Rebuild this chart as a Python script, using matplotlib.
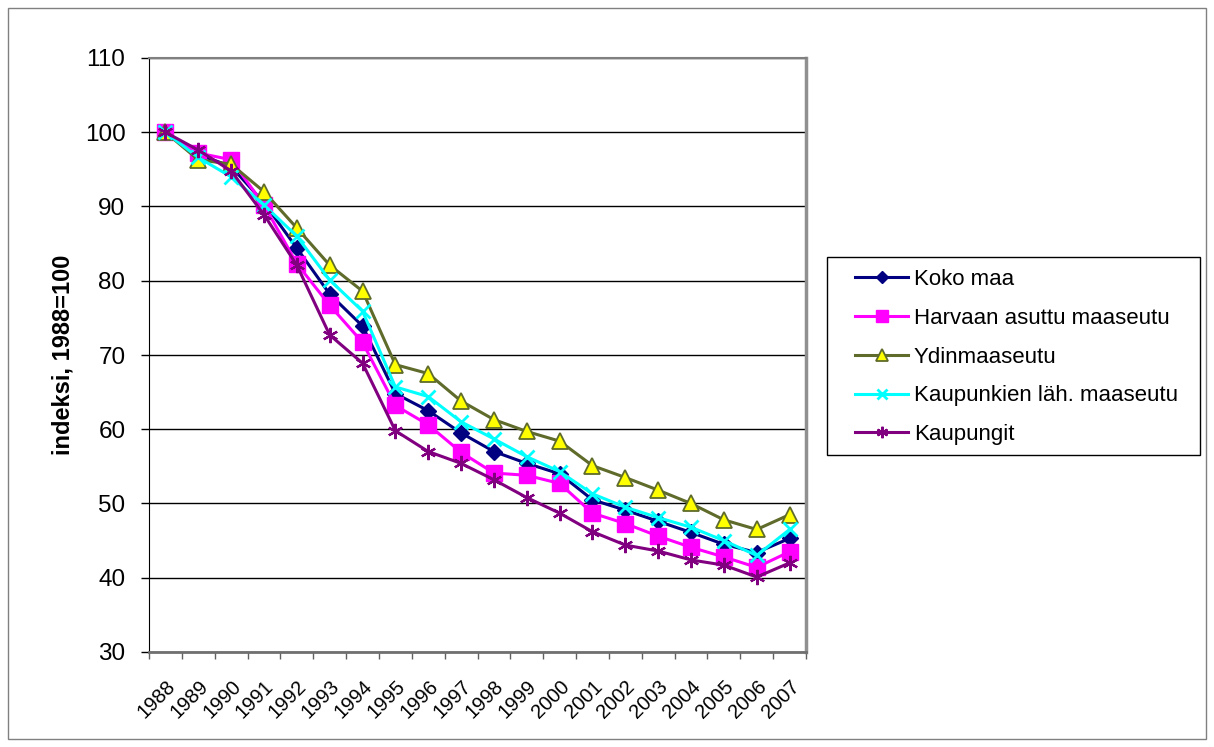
import matplotlib
matplotlib.use('Agg')
import matplotlib.pyplot as plt
import numpy as np

years = [str(y) for y in range(1988, 2008)]

koko_maa = [100, 97.0, 95.4, 90.5, 84.4, 78.2, 73.9, 64.8, 62.5, 59.5,
            57.0, 55.4, 54.0, 50.5, 49.1, 47.6, 46.1, 44.5, 43.4, 45.3]
harvaan = [100, 97.2, 96.3, 90.2, 82.3, 76.7, 71.7, 63.2, 60.6, 56.9,
           54.1, 53.8, 52.7, 48.7, 47.3, 45.6, 44.1, 42.8, 41.4, 43.5]
ydin = [100, 96.3, 95.7, 92.0, 87.1, 82.1, 78.6, 68.7, 67.5, 63.8,
        61.3, 59.7, 58.4, 55.1, 53.5, 51.8, 50.0, 47.8, 46.5, 48.5]
kaup_lah = [100, 96.6, 94.0, 90.2, 86.0, 80.1, 75.9, 65.7, 64.4, 61.0,
            58.7, 56.3, 54.3, 51.3, 49.5, 48.1, 46.8, 45.0, 43.0, 46.5]
kaupungit = [100, 97.6, 94.8, 88.9, 82.1, 72.7, 68.9, 59.8, 57.0, 55.4,
             53.2, 50.8, 48.7, 46.2, 44.4, 43.6, 42.4, 41.7, 40.1, 42.0]

labels = ['Koko maa', 'Harvaan asuttu maaseutu', 'Ydinmaaseutu',
          'Kaupunkien läh. maaseutu', 'Kaupungit']

plt.rcParams['font.family'] = ['Liberation Sans', 'DejaVu Sans']

W, H = 1214, 747
fig = plt.figure(figsize=(W / 100, H / 100), dpi=100)
# outer chart border
fig.patches.append(plt.Rectangle((8 / W, 1 - 739 / H), 1198 / W, 731 / H, transform=fig.transFigure,
                                 fill=False, edgecolor='#808080', linewidth=1))
# legend frame
fig.patches.append(plt.Rectangle((827 / W, 1 - 455 / H), 373 / W, 198 / H, transform=fig.transFigure,
                                 fill=False, edgecolor='black', linewidth=1))
ax = fig.add_axes([149 / W, 1 - 652 / H, 657 / W, 594 / H])

x = np.arange(len(years))
lw = 2.2
ax.plot(x, koko_maa, color='#000080', lw=lw, marker='D', ms=8.5, mfc='#000080', mec='#000080', label=labels[0], zorder=3)
ax.plot(x, harvaan, color='#FF00FF', lw=lw, marker='s', ms=11, mfc='#FF00FF', mec='#FF00FF', label=labels[1], zorder=3)
ax.plot(x, ydin, color='#5F6B2A', lw=lw, marker='^', ms=11, mfc='#FFFF00', mec='#5F6B2A', mew=1.3, label=labels[2], zorder=3)
ax.plot(x, kaup_lah, color='#00FFFF', lw=lw, marker='x', ms=9.5, mec='#00FFFF', mew=2, label=labels[3], zorder=3)
ax.plot(x, kaupungit, color='#800080', lw=lw, marker=(6, 2, 0), ms=11, mec='#800080', mew=1.6, label=labels[4], zorder=3)

ax.set_xlim(-0.5, len(years) - 0.5)
ax.set_ylim(30, 110)
ax.set_yticks(range(30, 111, 10))
ax.yaxis.grid(True, color='black', lw=1)
ax.set_axisbelow(True)
ax.tick_params(axis='y', labelsize=17.5, length=6, width=1, direction='out', pad=11)

ax.set_xticks(x)
ax.set_xticklabels(years, rotation=45, ha='right', rotation_mode='anchor', fontsize=14.5)
ax.set_xticks(np.arange(-0.5, len(years)), minor=True)
ax.tick_params(axis='x', which='major', length=0, pad=18)
ax.tick_params(axis='x', which='minor', length=5, width=1, color='#606060')

ax.spines['top'].set_color('#808080')
ax.spines['top'].set_linewidth(1.5)
ax.spines['right'].set_color('#909090')
ax.spines['right'].set_linewidth(2.5)
ax.spines['bottom'].set_color('#707070')
ax.spines['bottom'].set_linewidth(2)
ax.spines['left'].set_color('black')

ax.set_ylabel('indeksi, 1988=100', fontsize=17, fontweight='bold', labelpad=7)

leg = ax.legend(loc='upper left', bbox_to_anchor=(855 / W, 1 - 269 / H), bbox_transform=fig.transFigure,
                fontsize=16, frameon=False, borderpad=0, labelspacing=0.8,
                handlelength=2.4, handletextpad=0.25, borderaxespad=0, markerscale=0.75)

fig.savefig('out.png', dpi=100)
